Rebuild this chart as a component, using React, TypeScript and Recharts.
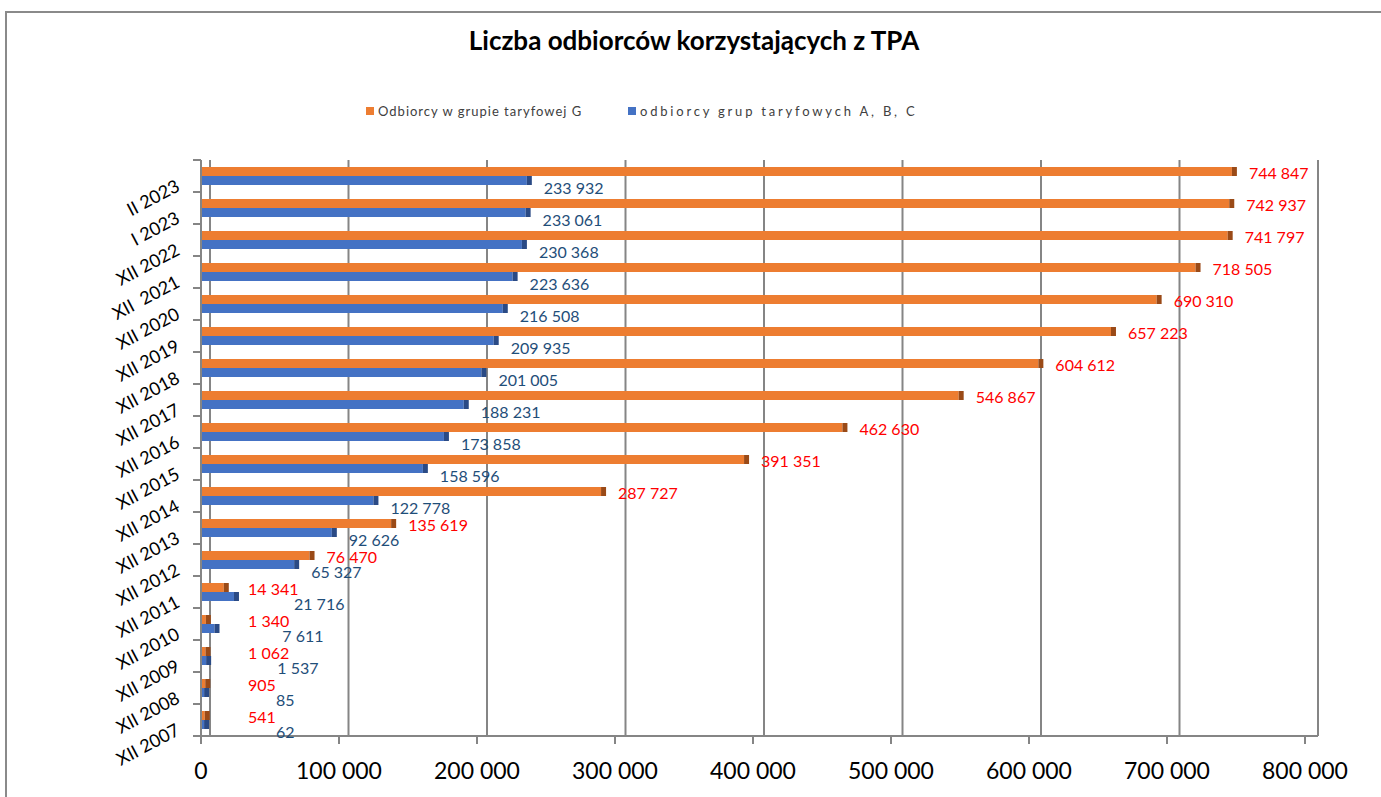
import React from 'react';
import { BarChart, Bar, XAxis, YAxis, CartesianGrid, LabelList } from 'recharts';

const categories = ['XII 2007', 'XII 2008', 'XII 2009', 'XII 2010', 'XII 2011', 'XII 2012', 'XII 2013', 'XII 2014', 'XII 2015', 'XII 2016', 'XII 2017', 'XII 2018', 'XII 2019', 'XII 2020', 'XII  2021', 'XII 2022', 'I 2023', 'II 2023'];
const groupG = [541, 905, 1062, 1340, 14341, 76470, 135619, 287727, 391351, 462630, 546867, 604612, 657223, 690310, 718505, 741797, 742937, 744847];
const groupABC = [62, 85, 1537, 7611, 21716, 65327, 92626, 122778, 158596, 173858, 188231, 201005, 209935, 216508, 223636, 230368, 233061, 233932];
const xTicks = [0, 100000, 200000, 300000, 400000, 500000, 600000, 700000, 800000];
const seriesNames = ['Odbiorcy w grupie taryfowej G', 'odbiorcy grup taryfowych A, B, C'];
const title = 'Liczba odbiorców korzystających z TPA';

const data = categories.map((c, i) => ({ cat: c, g: groupG[i], abc: groupABC[i] }));

const W = 1381;
const H = 797;
const M = { top: 160, right: 63, bottom: 11, left: 11 };
const YAXIS_W = 190;
const XAXIS_H = 50;
const PLOT_H = H - M.top - M.bottom - XAXIS_H;
const BAND = PLOT_H / categories.length;
const FRONT_PAD_RIGHT = 13;
const BACK_SHIFT = 9;
const X_MAX = xTicks[xTicks.length - 1];

const FONT = 'Lato, "Open Sans", sans-serif';
const ORANGE = '#ED7D31';
const ORANGE_CAP = '#9A4A17';
const BLUE = '#4472C4';
const BLUE_CAP = '#2A4A85';
const RED = '#FF0000';
const DARKBLUE = '#1F4E79';
const GRID = '#858585';

const fmt = (v: number) => String(v).replace(/\B(?=(\d{3})+(?!\d))/g, ' ');

const makeShape = (fill: string, cap: string) => (props: any) => {
  const { x, y, width, height } = props;
  const w = Math.max(0, width || 0);
  return (
    <g>
      <rect x={x} y={y} width={w + 3} height={height} fill={fill} />
      <rect x={x + w + 3} y={y} width={5} height={height} fill={cap} />
    </g>
  );
};

const orangeLabel = (props: any) => {
  const { x, y, width, height, value } = props;
  const w = Math.max(0, width);
  const tx = Math.max(x + w + 8 + 12, x + 47);
  return (
    <text x={tx} y={y + height / 2 + 1} fill={RED} fontSize={16} fontFamily={FONT} dominantBaseline="central">
      {fmt(value)}
    </text>
  );
};

const blueLabel = (props: any) => {
  const { x, y, width, height, value } = props;
  const w = Math.max(0, width);
  const tx = Math.max(x + w + 8 + 12, x + 75 + 0.6 * Math.min(w, 35));
  return (
    <text x={tx} y={y + height / 2 + 7} fill={DARKBLUE} fontSize={16} fontFamily={FONT} dominantBaseline="central">
      {fmt(value)}
    </text>
  );
};

const CatTick = (props: any) => {
  const { x, y, payload, index } = props;
  const ax = x + 8;
  const tx = ax - 20;
  const ty = y + 14;
  return (
    <g>
      <line x1={ax - 8} x2={ax} y1={y - BAND / 2} y2={y - BAND / 2} stroke={GRID} strokeWidth={2} />
      {index === 0 && <line x1={ax - 8} x2={ax} y1={y + BAND / 2} y2={y + BAND / 2} stroke={GRID} strokeWidth={2} />}
      <text
        x={tx}
        y={ty}
        textAnchor="end"
        fontSize={18}
        fontFamily={FONT}
        fill="#000"
        transform={`rotate(-28 ${tx} ${ty})`}
        style={{ whiteSpace: 'pre' }}
      >
        {payload.value}
      </text>
    </g>
  );
};

// back-wall gridlines: tick values placed on the slightly shifted back wall of the plot area
const backGrid = (args: any) => {
  const { offset } = args;
  const left = offset.left;
  const backSpan = offset.width - BACK_SHIFT;
  return xTicks.map((v) => left + BACK_SHIFT + (v / X_MAX) * backSpan);
};

export default function App() {
  return (
    <div style={{ position: 'fixed', left: 0, top: 0, width: W, height: H, overflow: 'hidden', background: '#fff' }}>
      <div style={{ position: 'absolute', left: 5, top: 11, width: 1500, height: 1000, borderLeft: '2px solid #8a8a8a', borderTop: '2px solid #8a8a8a' }} />
      <div style={{ position: 'absolute', left: 0, top: 24, width: 1388, textAlign: 'center', fontFamily: FONT, fontWeight: 700, fontSize: 26, lineHeight: '32px', color: '#000' }}>
        {title}
      </div>
      <div style={{ position: 'absolute', left: 366, top: 103, display: 'flex', alignItems: 'center', fontFamily: FONT, fontSize: 13, color: '#404040', letterSpacing: 1 }}>
        <span style={{ width: 8, height: 8, background: ORANGE, display: 'inline-block', marginRight: 4 }} />
        <span>{seriesNames[0]}</span>
      </div>
      <div style={{ position: 'absolute', left: 628, top: 103, display: 'flex', alignItems: 'center', fontFamily: FONT, fontSize: 13, color: '#404040', letterSpacing: 2.8 }}>
        <span style={{ width: 8, height: 8, background: BLUE, display: 'inline-block', marginRight: 4 }} />
        <span>{seriesNames[1]}</span>
      </div>
      <div style={{ position: 'absolute', left: 0, top: 0 }}>
        <BarChart width={W} height={H} data={data} layout="vertical" margin={M} barSize={9} barGap={0}>
          <CartesianGrid
            horizontal={false}
            vertical
            stroke={GRID}
            strokeWidth={2}
            verticalCoordinatesGenerator={backGrid}
          />
          <XAxis
            type="number"
            domain={[0, X_MAX]}
            ticks={xTicks}
            height={XAXIS_H}
            padding={{ left: 0, right: FRONT_PAD_RIGHT }}
            axisLine={{ stroke: GRID, strokeWidth: 2 }}
            tickLine={{ stroke: GRID, strokeWidth: 2 }}
            tickSize={8}
            tickMargin={19}
            tickFormatter={fmt}
            tick={{ fontSize: 23, fontFamily: FONT, fill: '#000' }}
            interval={0}
          />
          <YAxis
            type="category"
            dataKey="cat"
            reversed
            width={YAXIS_W}
            axisLine={{ stroke: GRID, strokeWidth: 2 }}
            tickLine={false}
            tickSize={8}
            tickMargin={0}
            tick={<CatTick />}
            interval={0}
          />
          <Bar dataKey="g" name={seriesNames[0]} fill={ORANGE} shape={makeShape(ORANGE, ORANGE_CAP)} isAnimationActive={false}>
            <LabelList dataKey="g" content={orangeLabel} />
          </Bar>
          <Bar dataKey="abc" name={seriesNames[1]} fill={BLUE} shape={makeShape(BLUE, BLUE_CAP)} isAnimationActive={false}>
            <LabelList dataKey="abc" content={blueLabel} />
          </Bar>
        </BarChart>
      </div>
    </div>
  );
}
